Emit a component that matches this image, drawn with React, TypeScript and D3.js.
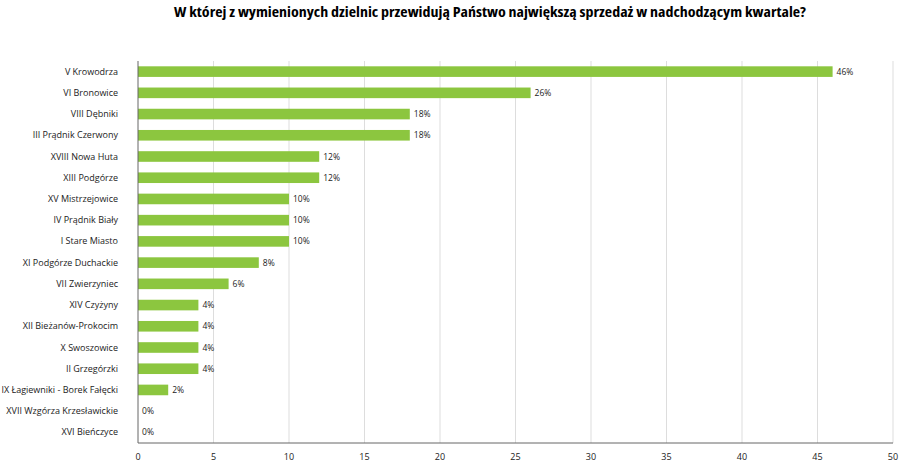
import React from 'react';
import * as d3 from 'd3';

const categories = [
  'V Krowodrza', 'VI Bronowice', 'VIII Dębniki', 'III Prądnik Czerwony', 'XVIII Nowa Huta',
  'XIII Podgórze', 'XV Mistrzejowice', 'IV Prądnik Biały', 'I Stare Miasto', 'XI Podgórze Duchackie',
  'VII Zwierzyniec', 'XIV Czyżyny', 'XII Bieżanów-Prokocim', 'X Swoszowice', 'II Grzegórzki',
  'IX Łagiewniki - Borek Fałęcki', 'XVII Wzgórza Krzesławickie', 'XVI Bieńczyce',
];
const values = [46, 26, 18, 18, 12, 12, 10, 10, 10, 8, 6, 4, 4, 4, 4, 2, 0, 0];
const ticks = [0, 5, 10, 15, 20, 25, 30, 35, 40, 45, 50];

const W = 900, H = 463;
const left = 138, right = 893, top = 61, bottom = 443;
const font = '"Open Sans", sans-serif';

export default function App() {
  const x = d3.scaleLinear().domain([0, 50]).range([left, right]);
  const y = d3.scaleBand<string>().domain(categories).range([top, bottom]).paddingInner(0.5).paddingOuter(0.25);
  return (
    <svg width={W} height={H} style={{ position: 'absolute', left: 0, top: 0 }}>
      <rect width={W} height={H} fill="#fff" />
      <text x={490} y={17} textAnchor="middle" fontFamily={font} fontWeight={700} fontSize={14.5}
        style={{ fontStretch: 'condensed' }} textLength={632} lengthAdjust="spacingAndGlyphs">
        W której z wymienionych dzielnic przewidują Państwo największą sprzedaż w nadchodzącym kwartale?
      </text>
      {ticks.map(t => (
        <g key={t}>
          {t > 0 && <line x1={x(t)} x2={x(t)} y1={top} y2={bottom} stroke="#d4d4d4" strokeWidth={0.8} />}
          <text x={x(t)} y={460} textAnchor="middle" fontFamily={font} fontSize={9} fill="#222">{t}</text>
        </g>
      ))}
      {categories.map((c, i) => {
        const yy = y(c)!;
        const cy = yy + y.bandwidth() / 2;
        return (
          <g key={c}>
            <rect x={x(0)} y={yy} width={x(values[i]) - x(0)} height={y.bandwidth()} fill="#8cc63f" />
            <text x={x(values[i]) + 4} y={cy + 3} fontFamily={font} fontSize={8.5} fill="#222">{values[i]}%</text>
            <text x={118} y={cy + 3} textAnchor="end" fontFamily={font} fontSize={9} fill="#222">{c}</text>
          </g>
        );
      })}
      <line x1={left} x2={left} y1={top} y2={bottom} stroke="#666" strokeWidth={1} />
      <line x1={left} x2={right} y1={bottom} y2={bottom} stroke="#666" strokeWidth={1} />
    </svg>
  );
}
